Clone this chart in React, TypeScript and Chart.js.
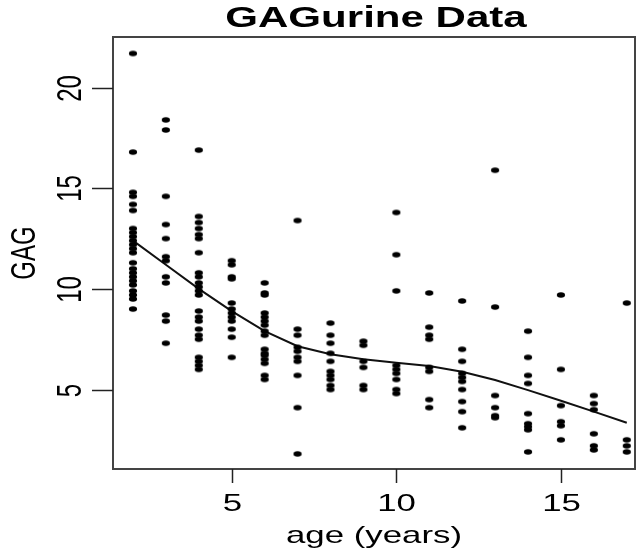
import React, { useEffect, useRef } from "react";
import { Chart, registerables } from "chart.js";

Chart.register(...registerables);

// GAG values per age (years)
const age2 = [21.7, 16.8, 14.8, 14.6, 14.2, 13.9, 13.0, 12.8, 12.6, 12.4, 12.2, 12.0, 11.8, 11.3, 11.0, 10.8, 10.6, 10.4, 10.2, 9.9, 9.7, 9.5, 9.0];
const age3 = [18.4, 17.9, 14.6, 13.2, 12.5, 11.6, 11.4, 10.6, 10.3, 8.7, 8.4, 7.3];
const age4 = [16.9, 13.6, 13.3, 13.0, 12.7, 12.5, 11.8, 10.8, 10.6, 10.3, 10.1, 9.9, 9.7, 8.9, 8.6, 8.4, 8.0, 7.7, 7.5, 6.6, 6.4, 6.2, 6.0];
const age5 = [11.4, 11.2, 10.6, 10.5, 9.3, 9.0, 8.8, 8.6, 8.4, 8.0, 7.6, 6.6];
const age6 = [10.3, 9.8, 9.7, 8.8, 8.6, 8.4, 8.2, 7.9, 7.7, 7.0, 6.8, 6.7, 6.5, 6.3, 5.7, 5.5];
const age7 = [13.4, 8.0, 7.7, 7.1, 6.9, 6.6, 6.4, 5.7, 4.1, 1.8];
const age8 = [8.3, 7.7, 7.3, 6.8, 6.4, 5.9, 5.7, 5.5, 5.2, 5.0];
const age9 = [7.4, 7.2, 6.4, 6.1, 5.2, 5.0];
const age10 = [13.8, 11.7, 9.9, 6.2, 6.0, 5.8, 5.5, 5.0, 4.8];
const age11 = [9.8, 8.1, 7.7, 7.5, 6.1, 5.9, 4.5, 4.1];
const age12 = [9.4, 7.0, 6.4, 5.8, 5.6, 5.4, 5.0, 4.4, 3.9, 3.1];
const age13 = [15.9, 9.1, 4.7, 4.1, 3.7, 3.6];
const age14 = [7.9, 6.6, 5.7, 5.3, 3.8, 3.3, 3.15, 3.0, 1.9];
const age15 = [9.7, 6.0, 4.2, 3.4, 3.2, 2.5];
const age16 = [4.7, 4.3, 4.0, 2.8, 2.2, 2.0];
const age17 = [9.3, 2.5, 2.2, 1.9];

const ages = [2, 3, 4, 5, 6, 7, 8, 9, 10, 11, 12, 13, 14, 15, 16, 17];
const gagByAge = [age2, age3, age4, age5, age6, age7, age8, age9, age10, age11, age12, age13, age14, age15, age16, age17];

// smoother (lowess) curve
const smoothAge = [2, 3, 4, 5, 6, 7, 8, 9, 10, 11, 12, 13, 14, 15, 16, 17];
const smoothGag = [12.4, 11.2, 10.0, 8.9, 7.9, 7.15, 6.75, 6.5, 6.33, 6.17, 5.88, 5.47, 4.97, 4.44, 3.9, 3.35];

const xTicks = [5, 10, 15];
const yTicks = [5, 10, 15, 20];
const titleText = "GAGurine Data";
const xLabel = "age (years)";
const yLabel = "GAG";

const FONT = '"Liberation Sans", Arial, Helvetica, sans-serif';
const SX = 1.45;

function stretchedText(ctx: CanvasRenderingContext2D, text: string, cx: number, cy: number, size: number, bold: boolean, rotate: boolean) {
  ctx.save();
  ctx.translate(cx, cy);
  ctx.scale(SX, 1);
  if (rotate) ctx.rotate(-Math.PI / 2);
  ctx.font = `${bold ? "bold " : ""}${size}px ${FONT}`;
  ctx.fillStyle = "#000";
  ctx.textAlign = "center";
  ctx.textBaseline = "middle";
  ctx.fillText(text, 0, 0);
  ctx.restore();
}

const axesPlugin = {
  id: "rStyleAxes",
  afterDraw(chart: any) {
    const { ctx, chartArea: a, scales } = chart;
    const xs = scales.x;
    const ys = scales.y;
    ctx.save();
    // box
    ctx.strokeStyle = "#444";
    ctx.lineWidth = 2;
    ctx.strokeRect(a.left, a.top, a.right - a.left, a.bottom - a.top);
    // x ticks
    ctx.strokeStyle = "#222";
    ctx.lineWidth = 1.5;
    xTicks.forEach((v) => {
      const px = Math.round(xs.getPixelForValue(v)) + 0.5;
      ctx.beginPath();
      ctx.moveTo(px, a.bottom);
      ctx.lineTo(px, a.bottom + 14);
      ctx.stroke();
      stretchedText(ctx, String(v), px, a.bottom + 35, 24, false, false);
    });
    // y ticks
    yTicks.forEach((v) => {
      const py = Math.round(ys.getPixelForValue(v)) + 0.5;
      ctx.beginPath();
      ctx.moveTo(a.left, py);
      ctx.lineTo(a.left - 21, py);
      ctx.stroke();
      stretchedText(ctx, String(v), a.left - 42, py, 24, false, true);
    });
    // axis titles
    stretchedText(ctx, xLabel, (a.left + a.right) / 2, a.bottom + 67, 24, false, false);
    stretchedText(ctx, yLabel, 25, (a.top + a.bottom) / 2, 24, false, true);
    // main title
    stretchedText(ctx, titleText, (a.left + a.right) / 2 + 2, 19, 29, true, false);
    ctx.restore();
  },
};

export default function App() {
  const ref = useRef<HTMLCanvasElement | null>(null);
  useEffect(() => {
    if (!ref.current) return;
    const dot = document.createElement("canvas");
    dot.width = 10;
    dot.height = 8;
    const dctx = dot.getContext("2d")!;
    dctx.fillStyle = "#000";
    dctx.beginPath();
    dctx.ellipse(5, 4, 4.1, 2.8, 0, 0, Math.PI * 2);
    dctx.fill();

    const points: { x: number; y: number }[] = [];
    ages.forEach((age, i) => {
      gagByAge[i].forEach((g) => points.push({ x: age, y: g }));
    });
    const smooth = smoothAge.map((a, i) => ({ x: a, y: smoothGag[i] }));

    const chart = new Chart(ref.current, {
      type: "scatter",
      data: {
        datasets: [
          {
            data: points,
            pointStyle: dot as any,
            pointRadius: 3,
            backgroundColor: "#000",
            borderColor: "#000",
          },
          {
            data: smooth,
            showLine: true,
            pointRadius: 0,
            borderColor: "#111",
            borderWidth: 2,
            tension: 0,
            fill: false,
          } as any,
        ],
      },
      options: {
        animation: false,
        responsive: false,
        devicePixelRatio: 1,
        layout: { padding: { left: 113, top: 37, right: 4, bottom: 81 } },
        plugins: {
          legend: { display: false },
          tooltip: { enabled: false },
          title: { display: false },
        },
        scales: {
          x: { type: "linear", min: 1.394, max: 17.25, display: false },
          y: { type: "linear", min: 1.05, max: 22.52, display: false },
        },
      },
      plugins: [axesPlugin],
    });
    return () => chart.destroy();
  }, []);

  return (
    <div style={{ position: "absolute", left: 0, top: 0, width: 640, height: 550, background: "#fff" }}>
      <canvas ref={ref} width={640} height={550} style={{ display: "block", width: 640, height: 550 }} />
    </div>
  );
}
